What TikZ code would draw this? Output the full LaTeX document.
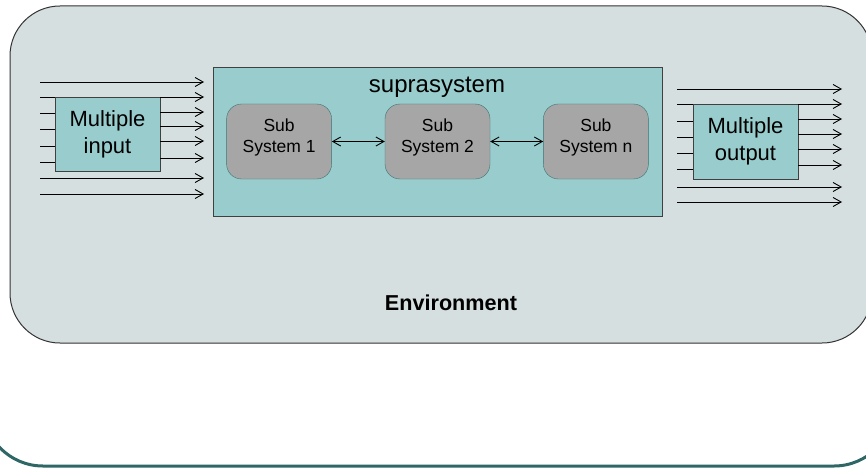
\documentclass[tikz,border=0pt]{standalone}
\usepackage{fontspec}
\setmainfont{Liberation Sans}
\usetikzlibrary{arrows.meta, positioning}

\definecolor{envfill}{HTML}{D6DFE0}
\definecolor{tealfill}{HTML}{99CCCC}
\definecolor{subfill}{HTML}{A6A6A6}
\definecolor{subline}{HTML}{3D7373}
\definecolor{frameline}{HTML}{2F6666}

\tikzset{
  boxed/.style={draw=black!75, fill=tealfill, line width=0.9pt, inner sep=0pt, align=center},
  subsys/.style={draw=subline, fill=subfill, rounded corners=15pt, minimum width=105pt, minimum height=75pt, inner sep=0pt, text depth=11pt, align=center, font=\fontsize{17.5}{21}\selectfont},
  wire/.style={line width=0.9pt},
}

\begin{document}
\begin{tikzpicture}[x=1pt, y=-1pt, >={Straight Barb[length=8pt,width=9pt,line width=0.9pt]}, node distance=53pt]
\useasboundingbox (0,0) rectangle (866,468);

% slide frame and environment
\begin{scope}
	\clip (0,0) rectangle (866,468);
	\draw[frameline, line width=3pt, rounded corners=60pt] (-17,-200) rectangle (894,466);
	\draw[black!80, fill=envfill, line width=1pt, rounded corners=50pt] (10,6) rectangle (872,343);
\end{scope}

\node[boxed, minimum width=449pt, minimum height=149pt] (supra) at (437.5,141.5) {};
\node[font=\fontsize{24}{28}\selectfont] (supra-title) at (437,87) {suprasystem};

\node[subsys] (sub2) at (437.5,141.5) {Sub\\System 2};
\node[subsys, left=of sub2] (sub1) {Sub\\System 1};
\node[subsys, right=of sub2] (subn) {Sub\\System n};

\node[boxed, minimum width=105pt, minimum height=74pt, font=\fontsize{22}{27}\selectfont] (in) at (107.5,134) {Multiple\\input};
\node[boxed, minimum width=105pt, minimum height=75pt, font=\fontsize{22}{27}\selectfont] (out) at (745.5,141.5) {Multiple\\output};

\node[font=\bfseries\fontsize{21.6}{26}\selectfont] (env-label) at (451,303) {Environment};

\draw[<->, wire] (sub1) -- (sub2);
\draw[<->, wire] (sub2) -- (subn);

% inputs
\foreach \y [count=\i] in {82,178,194} {
	\coordinate (in-src-\i) at (40,\y);
	\coordinate (in-dst-\i) at (204,\y);
	\draw[->, wire] (in-src-\i) -- (in-dst-\i);
}
\foreach \y [count=\i] in {97,113,129,146,162} {
	\coordinate (in-stub-\i) at (40,\y);
	\draw[wire] (in-stub-\i) -- (in-stub-\i -| in.west);
}
\foreach \y [count=\i] in {97,112,126,141,158} {
	\coordinate (in-tip-\i) at (204,\y);
	\draw[->, wire] (in-tip-\i -| in.east) -- (in-tip-\i);
}

% outputs
\foreach \y [count=\i] in {89,187,202} {
	\coordinate (out-src-\i) at (677,\y);
	\coordinate (out-dst-\i) at (842,\y);
	\draw[->, wire] (out-src-\i) -- (out-dst-\i);
}
\foreach \y [count=\i] in {104,121,137,153,169} {
	\coordinate (out-stub-\i) at (677,\y);
	\draw[wire] (out-stub-\i) -- (out-stub-\i -| out.west);
}
\foreach \y [count=\i] in {104,119,134,149,165} {
	\coordinate (out-tip-\i) at (842,\y);
	\draw[->, wire] (out-tip-\i -| out.east) -- (out-tip-\i);
}

\end{tikzpicture}
\end{document}
